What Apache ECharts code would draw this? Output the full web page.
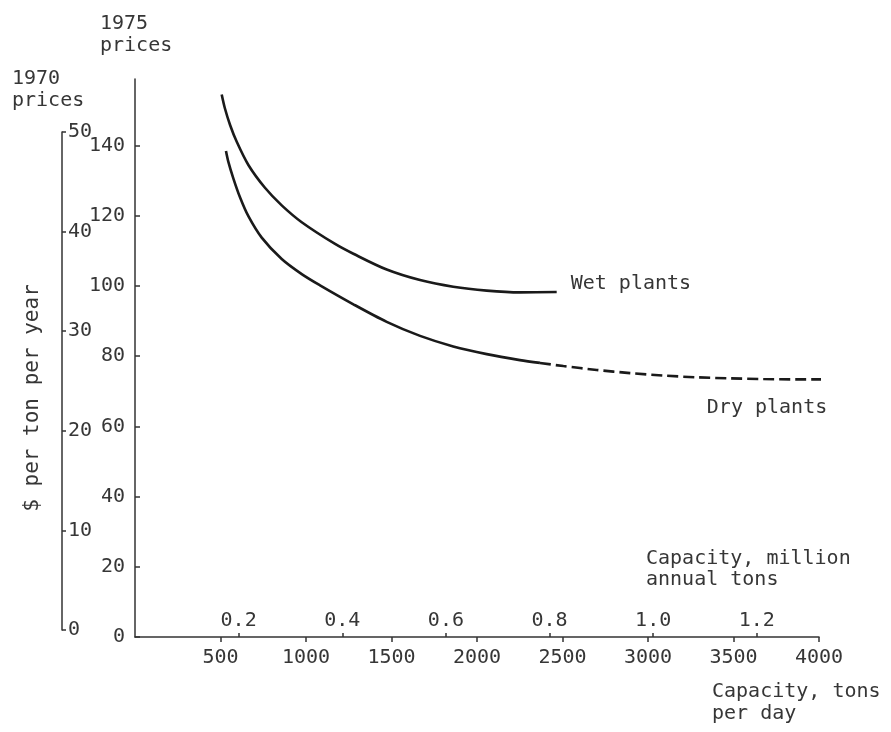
<!DOCTYPE html>
<html>
<head>
<meta charset="utf-8">
<script src="https://cdn.jsdelivr.net/npm/echarts@6/dist/echarts.min.js"></script>
<style>
  html, body { margin: 0; padding: 0; background: #fff; }
  #chart { width: 891px; height: 732px; }
</style>
</head>
<body>
<div id="chart"></div>
<script>
// capacity in tons per day, cost in $ per ton per year (1975 prices)
const wetTons = [507, 526, 556, 595, 663, 760, 858, 975, 1170, 1277, 1472, 1667, 1861, 2057, 2251, 2466]
const wetCost = [154.6, 150.6, 145.9, 141.1, 134.5, 128.0, 123.0, 118.2, 112.0, 109.2, 104.7, 101.7, 99.8, 98.7, 98.2, 98.3]

const dryTons = [532, 546, 575, 614, 663, 741, 858, 975, 1082, 1277, 1472, 1667, 1861, 2057, 2251, 2368]
const dryCost = [138.5, 135.4, 130.7, 125.3, 119.9, 113.8, 107.7, 103.4, 100.2, 94.8, 89.8, 85.8, 82.8, 80.6, 78.9, 78.1]

// extrapolated part of the dry plants curve (dashed)
const dryExtTons = [2368, 2505, 2700, 2895, 3089, 3284, 3480, 3674, 3869, 4054]
const dryExtCost = [78.1, 77.2, 76.1, 75.2, 74.5, 74.0, 73.7, 73.5, 73.4, 73.4]

const tonsMax = 4000
const tonsStep = 500
const operatingDays = 330 // tons/day -> million annual tons
const price1975Max = 159
const price1970Max = 50

const FONT = 'DejaVu Sans Mono'
const INK = '#363636'
const AXIS = '#333'

const pairs = (xs, ys) => xs.map((x, i) => [x, ys[i]])

const chart = echarts.init(document.getElementById('chart'))

const axisText = { fontFamily: FONT, fontSize: 20, color: INK }

const curve = (name, xs, ys, dash) => ({
  name: name,
  type: 'line',
  xAxisIndex: 0,
  yAxisIndex: 0,
  data: pairs(xs, ys),
  smooth: 0.3,
  symbol: 'none',
  clip: false,
  lineStyle: { color: '#1a1a1a', width: 2.6, type: dash || 'solid' },
})

chart.setOption({
  animation: false,
  backgroundColor: '#fff',
  grid: [
    { left: 135, top: 79, width: 684, height: 558, outerBoundsMode: 'none' },
    { left: 62, top: 132, width: 10, height: 498, outerBoundsMode: 'none' },
  ],
  xAxis: [
    {
      gridIndex: 0,
      type: 'value',
      position: 'bottom',
      min: 0,
      max: tonsMax,
      interval: tonsStep,
      axisLine: { lineStyle: { color: AXIS, width: 1.5 } },
      axisTick: { length: 5, lineStyle: { color: AXIS, width: 1.5 } },
      axisLabel: { ...axisText, margin: 11, showMinLabel: false, formatter: (v) => String(v) },
      splitLine: { show: false },
    },
    {
      // million annual tons, same scale
      gridIndex: 0,
      type: 'value',
      position: 'bottom',
      min: 0,
      max: (tonsMax * operatingDays) / 1e6,
      interval: 0.2,
      axisLine: { show: false },
      axisTick: { inside: true, length: 4, lineStyle: { color: AXIS, width: 1.5 } },
      axisLabel: {
        ...axisText,
        inside: true,
        margin: 6,
        showMinLabel: false,
        showMaxLabel: false,
        formatter: (v) => v.toFixed(1),
      },
      splitLine: { show: false },
    },
    { gridIndex: 1, type: 'value', min: 0, max: 1, show: false },
  ],
  yAxis: [
    {
      gridIndex: 0,
      type: 'value',
      min: 0,
      max: price1975Max,
      interval: 20,
      axisLine: { show: true, lineStyle: { color: AXIS, width: 1.5 } },
      axisTick: { show: true, inside: true, length: 5, lineStyle: { color: AXIS, width: 1.5 } },
      axisLabel: { ...axisText, margin: 10, showMaxLabel: false },
      splitLine: { show: false },
    },
    {
      gridIndex: 1,
      type: 'value',
      min: 0,
      max: price1970Max,
      interval: 10,
      axisLine: { show: true, lineStyle: { color: AXIS, width: 1.5 } },
      axisTick: { show: true, inside: true, length: 4, lineStyle: { color: AXIS, width: 1.5 } },
      axisLabel: { ...axisText, inside: true, margin: 6 },
      splitLine: { show: false },
    },
  ],
  series: [
    curve('Wet plants', wetTons, wetCost),
    curve('Dry plants', dryTons, dryCost),
    curve('Dry plants (extrapolated)', dryExtTons, dryExtCost, [11, 5]),
  ],
})

// curve labels anchored to the end of each curve
const wetEnd = chart.convertToPixel({ gridIndex: 0 }, [wetTons[wetTons.length - 1], wetCost[wetCost.length - 1]])
const dryEnd = chart.convertToPixel({ gridIndex: 0 }, [dryExtTons[dryExtTons.length - 1], dryExtCost[dryExtCost.length - 1]])

const titleFont = '20px "' + FONT + '"'

chart.setOption({
  graphic: [
    { type: 'text', left: 100, top: 13, style: { text: '1975\nprices', font: titleFont, fill: INK, lineHeight: 22 } },
    { type: 'text', left: 12, top: 68, style: { text: '1970\nprices', font: titleFont, fill: INK, lineHeight: 22 } },
    {
      type: 'text',
      x: 33,
      y: 398,
      rotation: Math.PI / 2,
      style: { text: '$ per ton per year', font: '21px "' + FONT + '"', fill: INK, align: 'center', verticalAlign: 'middle' },
    },
    { type: 'text', left: 646, top: 548, style: { text: 'Capacity, million\nannual tons', font: titleFont, fill: INK, lineHeight: 21 } },
    { type: 'text', left: 712, top: 681, style: { text: 'Capacity, tons\nper day', font: titleFont, fill: INK, lineHeight: 22 } },
    {
      type: 'text',
      x: wetEnd[0] + 14,
      y: wetEnd[1] - 8,
      style: { text: 'Wet plants', font: titleFont, fill: INK, align: 'left', verticalAlign: 'middle' },
    },
    {
      type: 'text',
      x: dryEnd[0] - 1,
      y: dryEnd[1] + 28,
      style: { text: 'Dry plants', font: titleFont, fill: INK, align: 'right', verticalAlign: 'middle' },
    },
  ],
})
</script>
</body>
</html>
